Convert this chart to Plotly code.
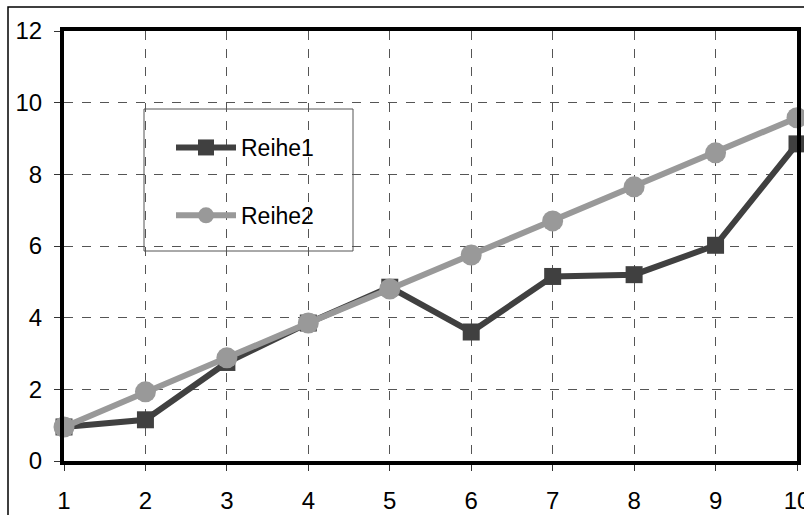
import plotly.graph_objects as go

x_vals = [1, 2, 3, 4, 5, 6, 7, 8, 9, 10]
reihe1 = [0.95, 1.15, 2.75, 3.85, 4.85, 3.6, 5.15, 5.2, 6.02, 8.85]
reihe2 = [0.95, 1.93, 2.88, 3.85, 4.8, 5.75, 6.7, 7.65, 8.6, 9.58]
y_ticks = [0, 2, 4, 6, 8, 10, 12]

FONT = "Liberation Sans, Arial, Helvetica, sans-serif"

fig = go.Figure()
fig.add_trace(go.Scatter(
    x=x_vals, y=reihe1, name="Reihe1", mode="lines+markers",
    line=dict(color="#404040", width=6),
    marker=dict(symbol="square", size=17, color="#404040"),
    cliponaxis=False, legendgroup="a",
))
fig.add_trace(go.Scatter(
    x=x_vals, y=reihe2, name="Reihe2", mode="lines+markers",
    line=dict(color="#999999", width=6),
    marker=dict(symbol="circle", size=21, color="#999999"),
    cliponaxis=False, legendgroup="b",
))

W, H = 804, 515
L, R, T, B = 64, 7, 31, 54
pw, ph = W - L - R, H - T - B

def px(xp):
    return (xp - L) / pw

def py(yp):
    return (H - B - yp) / ph

fig.update_layout(
    width=W, height=H, autosize=False,
    margin=dict(l=L, r=R, t=T, b=B, pad=0),
    paper_bgcolor="white", plot_bgcolor="white",
    font=dict(family=FONT, size=24, color="black"),
    showlegend=True,
    legend=dict(
        x=px(171), y=py(126), xanchor="left", yanchor="top",
        bgcolor="rgba(0,0,0,0)", borderwidth=0,
        font=dict(family=FONT, size=23, color="black"),
        tracegroupgap=35, itemwidth=60,
    ),
    shapes=[
        dict(type="rect", xref="paper", yref="paper",
             x0=px(8), x1=px(830), y0=py(540), y1=py(7),
             line=dict(color="black", width=1.5), fillcolor="rgba(0,0,0,0)",
             layer="below"),
        dict(type="rect", xref="paper", yref="paper",
             x0=px(144), x1=px(353), y0=py(251), y1=py(109),
             line=dict(color="#555555", width=1), fillcolor="white",
             layer="between"),
    ],
)

fig.update_xaxes(
    range=[1, 10], tickmode="array", tickvals=x_vals,
    ticktext=[str(v) for v in x_vals],
    tickfont=dict(family=FONT, size=24, color="black"),
    showgrid=True, gridcolor="#555555", gridwidth=1, griddash="dash",
    showline=True, linecolor="black", linewidth=4, mirror=True,
    ticks="outside", ticklen=6, tickcolor="#333333", tickwidth=1,
    ticklabelstandoff=9, zeroline=False, automargin=False,
    ticklabeloverflow="allow",
)
fig.update_yaxes(
    range=[0, 12], tickmode="array", tickvals=y_ticks,
    ticktext=[str(v) for v in y_ticks],
    tickfont=dict(family=FONT, size=24, color="black"),
    showgrid=True, gridcolor="#555555", gridwidth=1, griddash="dash",
    showline=True, linecolor="black", linewidth=4, mirror=True,
    ticks="outside", ticklen=6, tickcolor="#333333", tickwidth=1,
    ticklabelstandoff=7, zeroline=False, automargin=False,
    ticklabeloverflow="allow",
)

fig.write_html("out.html")
